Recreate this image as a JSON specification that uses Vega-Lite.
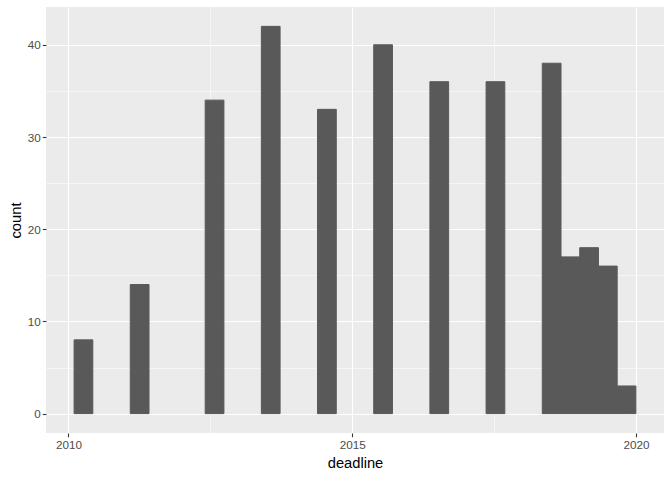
{
  "$schema": "https://vega.github.io/schema/vega-lite/v6.json",
  "width": 618,
  "height": 426,
  "autosize": {"type": "none"},
  "padding": {"left": 46, "top": 7, "right": 8, "bottom": 47},
  "background": "white",
  "config": {
    "view": {"fill": "#EBEBEB", "stroke": null},
    "font": "Liberation Sans"
  },
  "data": {
    "values": [
      {"start": 2010.10, "end": 2010.43, "count": 8},
      {"start": 2011.09, "end": 2011.42, "count": 14},
      {"start": 2012.41, "end": 2012.74, "count": 34},
      {"start": 2013.40, "end": 2013.73, "count": 42},
      {"start": 2014.39, "end": 2014.72, "count": 33},
      {"start": 2015.38, "end": 2015.71, "count": 40},
      {"start": 2016.37, "end": 2016.70, "count": 36},
      {"start": 2017.36, "end": 2017.69, "count": 36},
      {"start": 2018.35, "end": 2018.68, "count": 38},
      {"start": 2018.68, "end": 2019.01, "count": 17},
      {"start": 2019.01, "end": 2019.34, "count": 18},
      {"start": 2019.34, "end": 2019.67, "count": 16},
      {"start": 2019.67, "end": 2020.00, "count": 3}
    ]
  },
  "mark": {"type": "bar", "color": "#595959", "stroke": "#595959", "strokeWidth": 1},
  "encoding": {
    "x": {
      "field": "start",
      "type": "quantitative",
      "title": "deadline",
      "scale": {"domain": [2009.605, 2020.495], "nice": false, "zero": false},
      "axis": {
        "values": [2010, 2012.5, 2015, 2017.5, 2020],
        "labelExpr": "datum.value % 5 === 0 ? toString(datum.value) : ''",
        "domain": false,
        "grid": true,
        "gridColor": "white",
        "gridWidth": {"condition": {"test": "datum.value % 5 === 0", "value": 1.1}, "value": 0.55},
        "tickColor": "#333333",
        "tickOpacity": {"condition": {"test": "datum.value % 5 === 0", "value": 1}, "value": 0},
        "tickSize": 3.7,
        "tickWidth": 1.1,
        "labelColor": "#4D4D4D",
        "labelFontSize": 11.7,
        "labelPadding": 3,
        "labelFlush": false,
        "labelOverlap": false,
        "titleFontSize": 14.7,
        "titleColor": "black",
        "titleFontWeight": "normal",
        "titlePadding": 4
      }
    },
    "x2": {"field": "end"},
    "y": {
      "field": "count",
      "type": "quantitative",
      "title": "count",
      "scale": {"domain": [-2.1, 44.1], "nice": false, "zero": false},
      "axis": {
        "values": [0, 5, 10, 15, 20, 25, 30, 35, 40],
        "labelExpr": "datum.value % 10 === 0 ? toString(datum.value) : ''",
        "domain": false,
        "grid": true,
        "gridColor": "white",
        "gridWidth": {"condition": {"test": "datum.value % 10 === 0", "value": 1.1}, "value": 0.55},
        "tickColor": "#333333",
        "tickOpacity": {"condition": {"test": "datum.value % 10 === 0", "value": 1}, "value": 0},
        "tickSize": 3.7,
        "tickWidth": 1.1,
        "labelColor": "#4D4D4D",
        "labelFontSize": 11.7,
        "labelPadding": 2,
        "labelFlush": false,
        "labelOverlap": false,
        "titleFontSize": 14.7,
        "titleColor": "black",
        "titleFontWeight": "normal",
        "titlePadding": 4
      }
    },
    "y2": {"datum": 0}
  }
}
